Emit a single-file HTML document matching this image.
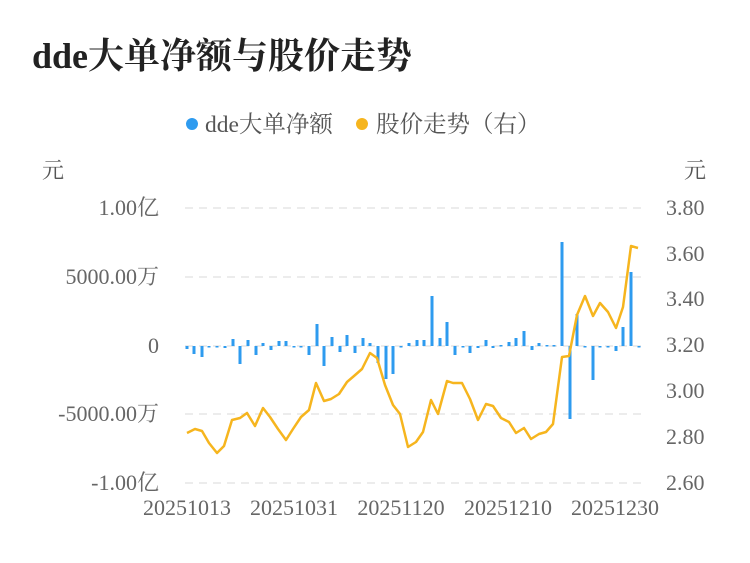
<!DOCTYPE html>
<html><head><meta charset="utf-8"><style>
body{margin:0;background:#fff;width:750px;height:558px;overflow:hidden}
svg text{font-family:"Liberation Serif","Noto Serif CJK SC",serif}
</style></head><body>
<svg width="750" height="558" xmlns="http://www.w3.org/2000/svg">
<text x="32" y="68" font-size="36" font-weight="bold" fill="#222">dde大单净额与股价走势</text>
<circle cx="192" cy="124" r="6" fill="#2e9bef"/>
<text x="205" y="132" font-size="23.5" fill="#555">dde大单净额</text>
<circle cx="362" cy="124" r="6" fill="#f6b51e"/>
<text x="376" y="132" font-size="23.5" fill="#555">股价走势（右）</text>
<text x="42" y="178" font-size="22" fill="#555">元</text>
<text x="684" y="178" font-size="22" fill="#555">元</text>
<g stroke="#ececec" stroke-width="2" stroke-dasharray="8,6">
<line x1="185" y1="208" x2="641" y2="208"/><line x1="185" y1="277" x2="641" y2="277"/>
<line x1="185" y1="346" x2="641" y2="346"/><line x1="185" y1="414" x2="641" y2="414"/>
<line x1="185" y1="483" x2="641" y2="483"/></g>
<g font-size="22" fill="#666" text-anchor="end">
<text x="159" y="215">1.00亿</text><text x="159" y="284">5000.00万</text><text x="159" y="353">0</text>
<text x="159" y="421">-5000.00万</text><text x="159" y="490">-1.00亿</text></g>
<g font-size="22" fill="#666">
<text x="666" y="215">3.80</text><text x="666" y="261">3.60</text><text x="666" y="306">3.40</text>
<text x="666" y="352">3.20</text><text x="666" y="398">3.00</text><text x="666" y="444">2.80</text><text x="666" y="490">2.60</text></g>
<g font-size="22" fill="#666" text-anchor="middle">
<text x="187" y="515">20251013</text><text x="294" y="515">20251031</text><text x="401" y="515">20251120</text>
<text x="508" y="515">20251210</text><text x="615" y="515">20251230</text></g>
<g fill="#2e9bef" id="bars"></g>
<polyline fill="none" stroke="#f6b51e" stroke-width="2.5" stroke-linejoin="round" points="187,433 195,429 202,431 209,443 217,453 224,446 232,420 240,418 247,413 255,426 263,408 270,417 278,429 286,440 293,429 301,417 309,410 316,383 324,401 331,399 339,394 347,382 354,376 362,369 370,353 377,358 385,385 393,405 400,414 408,447 416,442 423,432 431,400 438,414 447,381 453,383 462,383 470,399 478,420 486,404 493,406 501,418 509,422 516,433 524,428 531,439 539,434 546,432 553,424 562,357 569,356 577,315 585,296 593,316 600,303 608,312 616,328 623,307 631,246 638,248"/>
</svg>
<script>
var d=[[187,349],[194,354],[202,357],[209,347],[217,347],[225,348],[233,339],[240,364],[248,340],[256,355],[263,343],[271,350],[279,341],[286,341],[294,347],[301,347],[309,355],[317,324],[324,366],[332,337],[340,352],[347,335],[355,353],[363,338],[370,343],[378,363],[386,379],[393,374],[401,347],[409,343],[417,340],[424,340],[432,296],[440,338],[447,322],[455,355],[463,347],[470,353],[478,348],[486,340],[493,348],[501,345],[509,342],[516,338],[524,331],[532,350],[539,343],[547,345],[554,345],[562,242],[570,419],[577,314],[585,347],[593,380],[600,347],[608,347],[616,351],[623,327],[631,272],[639,347]];
var g=document.getElementById('bars'),s='';
d.forEach(function(p){var y1=Math.min(346,p[1]),h=Math.max(1.5,Math.abs(p[1]-346));s+='<rect x="'+(p[0]-1.5)+'" y="'+y1+'" width="3" height="'+h+'"/>';});
g.innerHTML=s;
</script>
</body></html>
